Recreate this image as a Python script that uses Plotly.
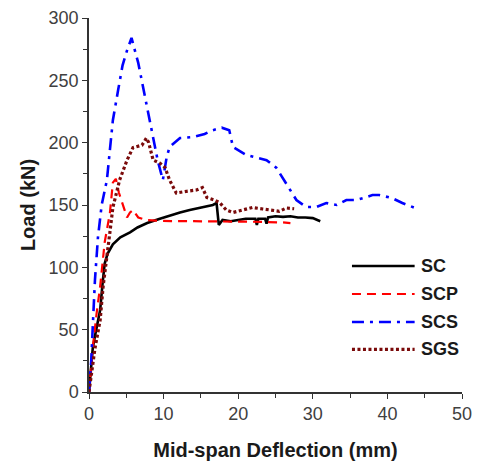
import plotly.graph_objects as go

# ---- data ----
series_names = ["SC", "SCP", "SCS", "SGS"]

sc_x = [0, 0.2, 0.5, 0.8, 1.2, 1.5, 1.8, 2.1, 2.5, 3.2, 4.2, 5.5, 6.5, 7.8, 9.5, 11, 12.2, 13.5, 15, 16.6, 17.1,
        17.4, 17.9, 19, 20, 21, 22.3, 22.5, 22.7, 23.6, 23.8, 24, 25, 26, 27, 28, 29, 30, 31]
sc_y = [0, 15, 35, 45, 56, 66, 86, 103, 111, 118.5, 124, 128, 132, 135.5, 139, 142, 144, 146, 148, 150, 151.5,
        134, 138, 137, 138, 139, 139, 134, 139, 139, 135, 140, 141, 140.5, 141, 140, 140, 139.5, 137]

scp_x = [0, 0.5, 1.0, 1.5, 2.1, 2.8, 3.2, 3.6, 4.0, 4.6, 5.1, 5.5, 5.9, 6.6, 7.7, 9, 11, 14, 17, 20, 23, 26, 27]
scp_y = [0, 35, 62, 85, 120, 143.5, 168, 171, 160, 148, 140, 144, 146, 140, 138, 137.5, 137, 137, 137, 136.5,
         136.5, 136, 135.5]

scs_x = [0, 0.3, 0.5, 0.8, 1.2, 1.7, 2.4, 3.2, 3.9, 4.5, 5.1, 5.7, 6.6, 7.5, 8.4, 9.2, 9.9, 10.4, 10.8, 12.2,
         13.9, 15.5, 16.6, 17.8, 18.8, 19.3, 21.1, 22.5, 23.8, 25.1, 25.9, 26.9, 27.8, 29.1, 30.5, 31.8, 33.2,
         34.5, 35.8, 37, 38, 38.9, 40.6, 42, 43.3, 44]
scs_y = [0, 25, 52, 90, 124, 150, 170, 218, 242, 262, 274, 284, 264, 237, 210, 186, 170, 188, 196.5, 203.7,
         204.5, 207, 210, 212, 210, 196.5, 190, 188, 186, 180, 172, 162, 154, 148.4, 148.4, 151.6, 150,
         154, 154, 156, 158, 158, 155.6, 151.6, 148.4, 147]

sgs_x = [0, 0.4, 0.8, 1.2, 1.5, 1.9, 2.4, 2.8, 3.2, 4.1, 5.1, 5.9, 7.1, 7.7, 8.0, 8.6, 9.5, 10.2, 10.8, 11.7,
         13.1, 14.4, 15.2, 15.8, 16.8, 17.5, 18.4, 19.3, 20.6, 21.9, 23.3, 24.5, 25.5, 26.5, 27.5]
sgs_y = [0, 18, 35, 48, 58, 85, 112, 128, 148, 170, 186, 196, 198, 203.7, 200, 186, 183.6, 180, 170, 159.6,
         161, 162, 164, 156, 154, 152, 146, 144, 146, 148, 146.8, 146, 145, 147.6, 147]

x_ticks = [0, 10, 20, 30, 40, 50]
y_ticks = [0, 50, 100, 150, 200, 250, 300]

styles = [
    dict(color="#000000", width=2.6, dash="solid"),
    dict(color="#ff0000", width=2.2, dash="9px,6px"),
    dict(color="#0000ff", width=2.6, dash="12px,6px,3px,6px"),
    dict(color="#7a0a0a", width=3.2, dash="3px,2.5px"),
]
xs = [sc_x, scp_x, scs_x, sgs_x]
ys = [sc_y, scp_y, scs_y, sgs_y]

fig = go.Figure()
for name, x, y, st in zip(series_names, xs, ys, styles):
    fig.add_trace(go.Scatter(x=x, y=y, mode="lines", name=name, line=st, showlegend=False))

# manual legend
leg_y = [0.337, 0.262, 0.187, 0.114]
for name, st, ly in zip(series_names, styles, leg_y):
    fig.add_shape(type="line", xref="paper", yref="paper", x0=0.705, x1=0.873, y0=ly, y1=ly,
                  line=dict(color=st["color"], width=st["width"], dash=st["dash"]))
    fig.add_annotation(xref="paper", yref="paper", x=0.885, y=ly, text=name, showarrow=False,
                       xanchor="left", yanchor="middle",
                       font=dict(family="Liberation Sans", size=18, color="#1a1a1a", weight="bold"))

axis_common = dict(showline=True, linecolor="#333333", linewidth=1.5, ticks="outside", ticklen=5,
                   tickwidth=1.2, tickcolor="#333333", showgrid=False, zeroline=False, automargin=False,
                   tickfont=dict(family="Liberation Sans", size=18, color="#404040"))

fig.update_xaxes(range=[0, 50], tickvals=x_ticks,
                 minor=dict(dtick=5, ticks="outside", ticklen=4, tickcolor="#333333", tickwidth=1.2),
                 title=dict(text="<b>Mid-span Deflection (mm)</b>", standoff=20,
                            font=dict(family="Liberation Sans", size=20, color="#1a1a1a")),
                 **axis_common)
fig.update_yaxes(range=[0, 300], tickvals=y_ticks,
                 minor=dict(dtick=25, ticks="outside", ticklen=4, tickcolor="#333333", tickwidth=1.2),
                 title=dict(text="<b>Load (kN)</b>", standoff=8,
                            font=dict(family="Liberation Sans", size=20, color="#1a1a1a")),
                 **axis_common)

fig.update_layout(width=478, height=461, margin=dict(l=89, r=16, t=18, b=69),
                  plot_bgcolor="white", paper_bgcolor="white")

fig.write_html("out.html", config={"displayModeBar": False},
               post_script="document.body.style.margin='0';document.body.style.overflow='hidden';")
